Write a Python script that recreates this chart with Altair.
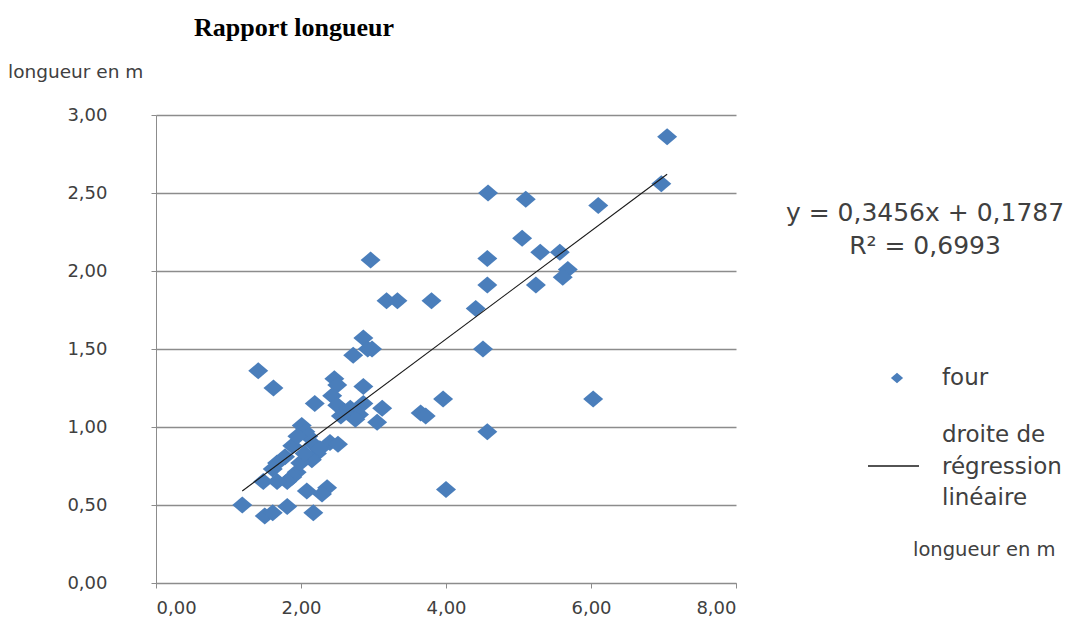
import altair as alt
import pandas as pd

# ---- data ----
x_vals = [7.05, 6.97, 6.10, 5.10, 4.58, 5.05, 5.30, 5.57, 5.68, 5.61, 5.24,
          4.57, 4.57, 4.41, 4.51, 4.57, 3.96, 4.00, 6.03, 3.80, 3.18, 3.33,
          2.96, 3.65, 3.72,
          2.86, 2.92, 2.72, 2.98,
          1.41, 1.62, 2.19, 2.46, 2.50, 2.43, 2.50, 2.60, 2.68, 2.86, 2.86,
          2.80, 2.75, 3.12, 3.05, 2.55,
          2.01, 2.06, 2.10, 1.88, 1.78, 1.67, 1.61, 2.17, 2.22, 2.15, 2.40,
          2.51, 1.94, 1.88, 1.81, 1.99, 1.48, 1.67, 2.08, 2.36, 2.29, 1.19,
          1.50, 1.61, 1.81, 2.17, 2.26, 1.95, 2.05]
y_vals = [2.86, 2.56, 2.42, 2.46, 2.50, 2.21, 2.12, 2.12, 2.01, 1.96, 1.91,
          2.08, 1.91, 1.76, 1.50, 0.97, 1.18, 0.60, 1.18, 1.81, 1.81, 1.81,
          2.07, 1.09, 1.07,
          1.57, 1.50, 1.46, 1.50,
          1.36, 1.25, 1.15, 1.31, 1.27, 1.20, 1.14, 1.10, 1.12, 1.26, 1.15,
          1.08, 1.05, 1.12, 1.03, 1.07,
          1.01, 0.97, 0.94, 0.88, 0.81, 0.77, 0.73, 0.89, 0.83, 0.79, 0.90,
          0.89, 0.71, 0.68, 0.65, 0.77, 0.65, 0.65, 0.59, 0.61, 0.57, 0.50,
          0.43, 0.45, 0.49, 0.45, 0.86, 0.94, 0.83]

line_x = [1.19, 7.05]
line_y = [0.59, 2.62]

x_ticks = [0, 2, 4, 6, 8]
y_ticks = [0, 0.5, 1.0, 1.5, 2.0, 2.5, 3.0]

title_text = "Rapport longueur"
axis_title = "longueur en m"
equation_lines = ["y = 0,3456x + 0,1787", "R² = 0,6993"]
legend_point = "four"
legend_line = ["droite de", "régression", "linéaire"]

# ---- styling ----
BLUE = "#4A7EBB"
GRID = "#8C8C8C"
TXT = "#404040"
FONT = "DejaVu Sans"
W, H = 580, 468

pts = pd.DataFrame({"x": x_vals, "y": y_vals})
reg = pd.DataFrame({"x": line_x, "y": line_y})

label_expr = "replace(format(datum.value, '.2f'), '.', ',')"

xscale = alt.Scale(domain=[0, 8], nice=False, zero=True)
yscale = alt.Scale(domain=[0, 3], nice=False, zero=True)

xaxis = alt.Axis(values=x_ticks, labelExpr=label_expr, title=None, grid=False,
                 domainColor=GRID, tickColor=GRID, tickSize=5, labelFont=FONT,
                 labelFontSize=18, labelColor=TXT, labelPadding=11)
yaxis = alt.Axis(values=y_ticks, labelExpr=label_expr, title=None, grid=True,
                 gridColor=GRID, gridWidth=1.3, domainColor=GRID, tickColor=GRID,
                 tickSize=5, labelFont=FONT, labelFontSize=18, labelColor=TXT,
                 labelPadding=44)

diamond = "M-1,0L0,-0.85L1,0L0,0.85Z"

points = alt.Chart(pts).mark_point(shape=diamond, filled=True, opacity=1,
                                   size=400, color=BLUE).encode(
    x=alt.X("x:Q", scale=xscale, axis=xaxis),
    y=alt.Y("y:Q", scale=yscale, axis=yaxis),
)

line = alt.Chart(reg).mark_line(color="#1a1a1a", strokeWidth=1.1).encode(
    x=alt.X("x:Q", scale=xscale),
    y=alt.Y("y:Q", scale=yscale),
)


def text_layer(txt, x, y, size, align="left", font=FONT, weight="normal", color=TXT):
    return alt.Chart(pd.DataFrame({"t": [txt]})).mark_text(
        align=align, baseline="middle", font=font, fontSize=size,
        fontWeight=weight, color=color, clip=False
    ).encode(text="t:N", x=alt.value(x), y=alt.value(y))


layers = [points, line]
layers.append(text_layer(title_text, 138, -87, 26, align="center",
                         font="Liberation Serif", weight="bold", color="#000000"))
layers.append(text_layer(axis_title, -148, -43, 18.5))
layers.append(text_layer(axis_title, 757, 435, 19.5))
layers.append(text_layer(equation_lines[0], 769, 98, 25, align="center"))
layers.append(text_layer(equation_lines[1], 769, 131, 25, align="center"))
layers.append(text_layer(legend_point, 786, 263, 23))
for i, t in enumerate(legend_line):
    layers.append(text_layer(t, 786, 320 + i * 31.5, 23))

leg_pt = alt.Chart(pd.DataFrame({"t": [legend_point]})).mark_point(
    shape=diamond, filled=True, opacity=1, size=150, color=BLUE
).encode(x=alt.value(741), y=alt.value(263))
leg_ln = alt.Chart(pd.DataFrame({"t": ["l"]})).mark_rule(
    color="#1a1a1a", strokeWidth=1.3
).encode(x=alt.value(712), x2=alt.value(763), y=alt.value(351))
layers += [leg_pt, leg_ln]

chart = alt.layer(*layers).properties(
    width=W, height=H,
    autosize=alt.AutoSizeParams(type="none"),
    padding={"left": 148, "top": 107, "right": 330, "bottom": 40},
    background="white",
).configure_view(stroke=None)

chart.save("out.html", embed_options={"renderer": "svg", "actions": False})
